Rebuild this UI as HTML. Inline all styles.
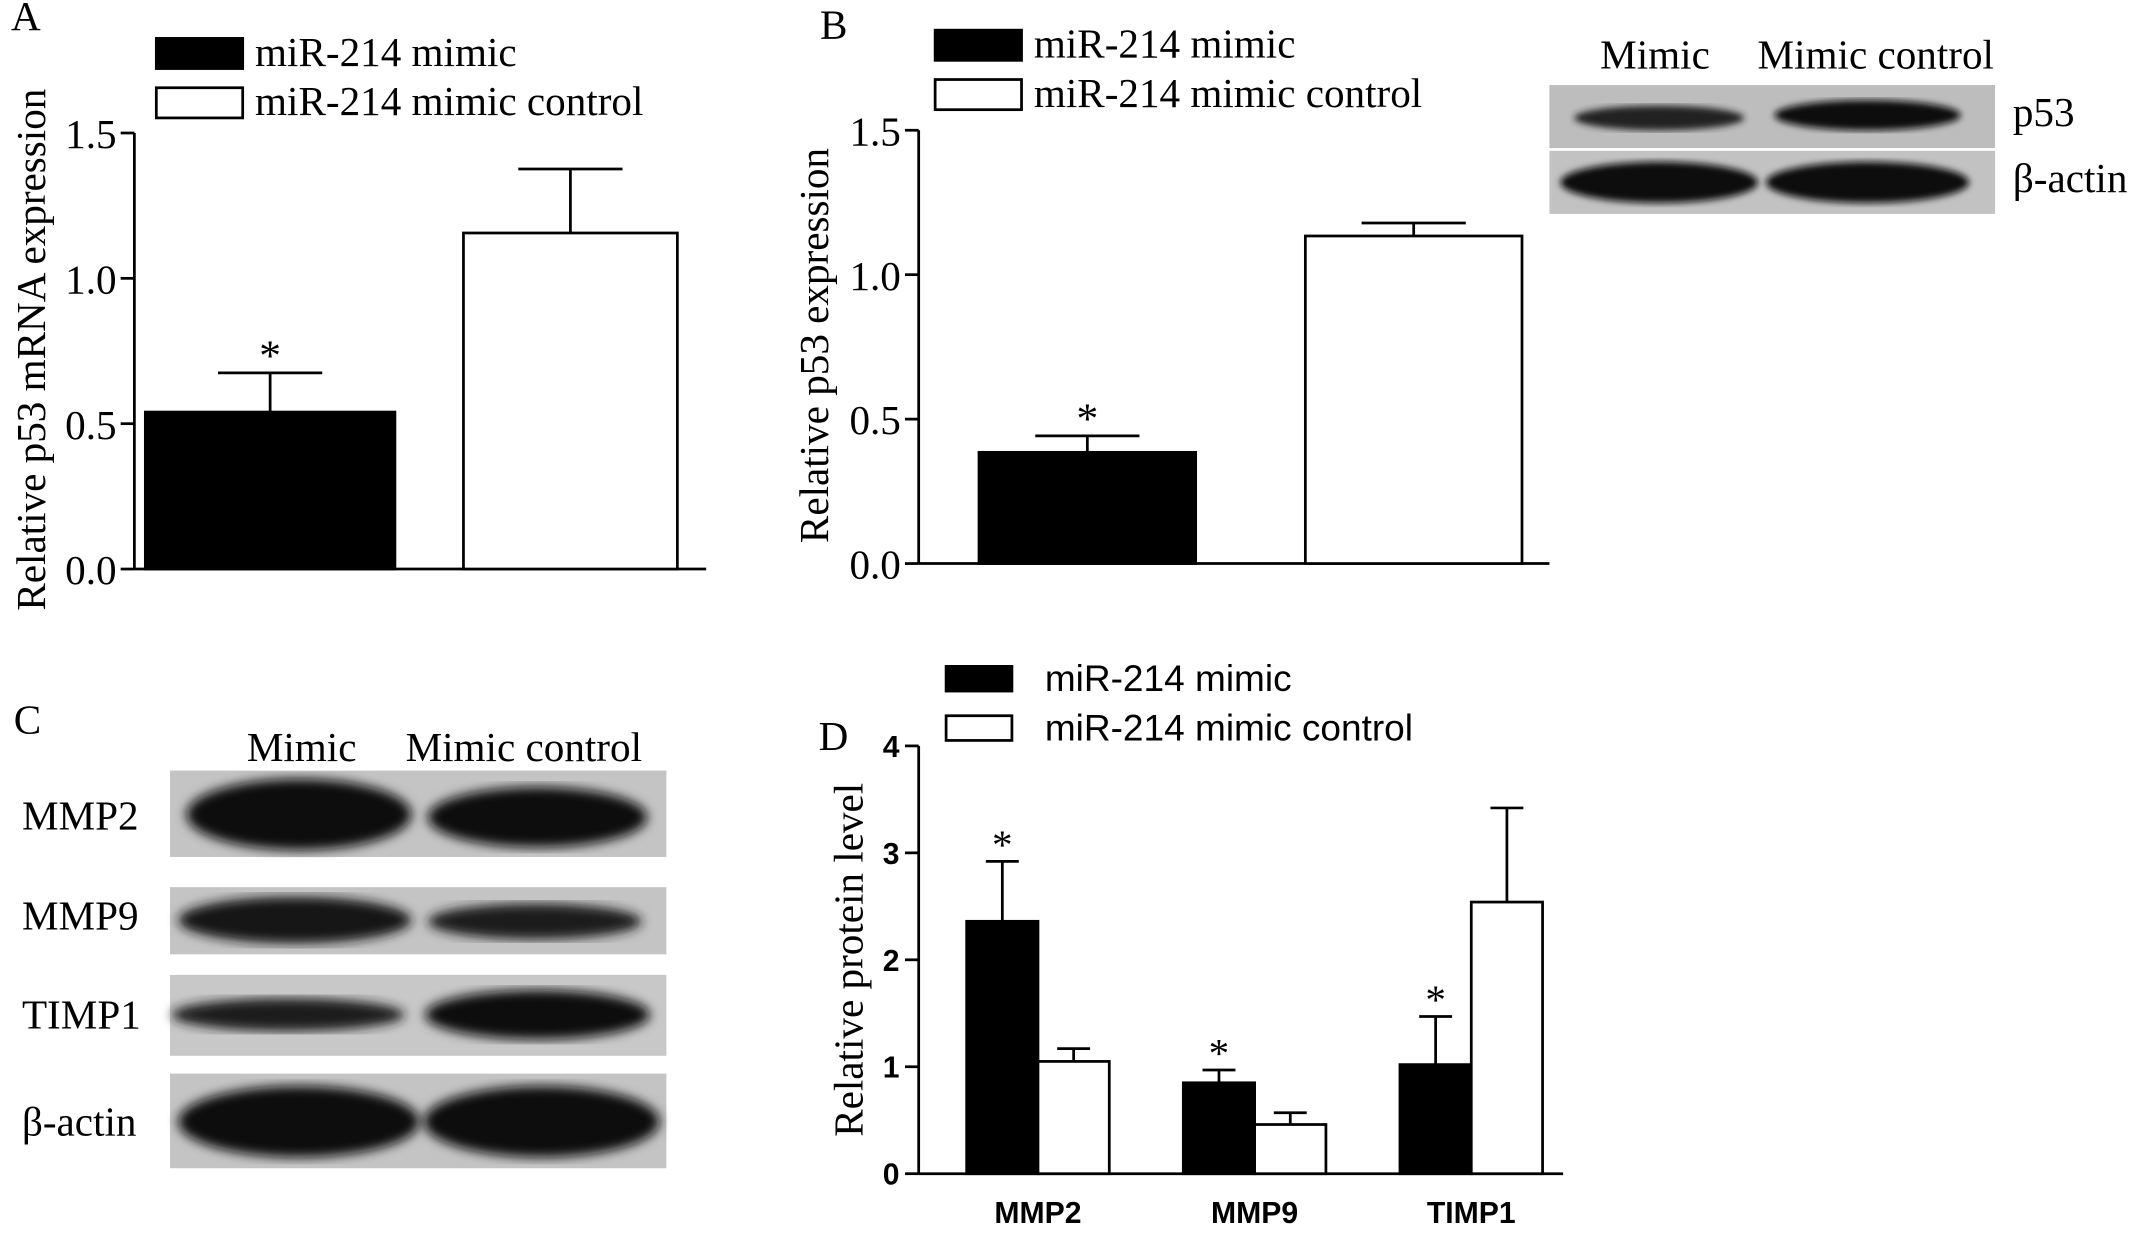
<!DOCTYPE html>
<html><head><meta charset="utf-8"><style>
html,body{margin:0;padding:0;background:#fff;}
svg{display:block;}
.serif{font-family:"Liberation Serif",serif;}
.sans{font-family:"Liberation Sans",sans-serif;}
</style></head><body>
<svg id="fig" width="2150" height="1235" viewBox="0 0 1568 900.7" preserveAspectRatio="none" xmlns="http://www.w3.org/2000/svg">
<defs>
<filter id="blur3"><feGaussianBlur stdDeviation="4"/></filter>
<filter id="blur2"><feGaussianBlur stdDeviation="2.5"/></filter>
</defs>
<g id="gA"></g>
<g id="gB"></g>
<g id="blotB">
  <rect x="1130" y="62" width="325" height="46" fill="#bdbdbd"/>
  <rect x="1130" y="110" width="325" height="46" fill="#c2c2c2"/>
  <ellipse cx="1210" cy="86" rx="62" ry="9" fill="#222" filter="url(#blur2)"/>
  <ellipse cx="1362" cy="84" rx="68" ry="11" fill="#111" filter="url(#blur2)"/>
  <ellipse cx="1210" cy="133" rx="72" ry="15" fill="#111" filter="url(#blur2)"/>
  <ellipse cx="1362" cy="133" rx="74" ry="15" fill="#111" filter="url(#blur2)"/>
  <text class="serif" x="1207" y="50" font-size="30" text-anchor="middle">Mimic</text>
  <text class="serif" x="1368" y="50" font-size="30" text-anchor="middle">Mimic control</text>
  <text class="serif" x="1468" y="92" font-size="30">p53</text>
  <text class="serif" x="1468" y="140" font-size="30">β-actin</text>
</g>
<g id="blotC">
  <text class="serif" x="10" y="535" font-size="30">C</text>
  <text class="serif" x="220" y="555" font-size="30" text-anchor="middle">Mimic</text>
  <text class="serif" x="382" y="555" font-size="30" text-anchor="middle">Mimic control</text>
  <rect x="124" y="562" width="362" height="63" fill="#c4c4c4"/>
  <rect x="124" y="647" width="362" height="49" fill="#c4c4c4"/>
  <rect x="124" y="711" width="362" height="59" fill="#c8c8c8"/>
  <rect x="124" y="783" width="362" height="69" fill="#c4c4c4"/>
  <ellipse cx="218" cy="594" rx="82" ry="26" fill="#111" filter="url(#blur3)"/>
  <ellipse cx="392" cy="596" rx="80" ry="22" fill="#111" filter="url(#blur3)"/>
  <ellipse cx="215" cy="671" rx="85" ry="17" fill="#151515" filter="url(#blur3)"/>
  <ellipse cx="390" cy="672" rx="78" ry="13" fill="#1a1a1a" filter="url(#blur3)"/>
  <ellipse cx="210" cy="740" rx="85" ry="12" fill="#1a1a1a" filter="url(#blur3)"/>
  <ellipse cx="392" cy="740" rx="82" ry="18" fill="#111" filter="url(#blur3)"/>
  <ellipse cx="218" cy="818" rx="88" ry="26" fill="#111" filter="url(#blur3)"/>
  <ellipse cx="395" cy="818" rx="86" ry="26" fill="#111" filter="url(#blur3)"/>
  <text class="serif" x="16" y="605" font-size="30">MMP2</text>
  <text class="serif" x="16" y="678" font-size="30">MMP9</text>
  <text class="serif" x="16" y="750" font-size="30">TIMP1</text>
  <text class="serif" x="16" y="828" font-size="30">β-actin</text>
</g>
<g id="gD"></g>
</svg>
<script>
// Panel A data
const aCategories = ["miR-214 mimic", "miR-214 mimic control"];
const aValues = [0.54, 1.156];
const aErrors = [0.135, 0.22];
const aTicks = ["0.0", "0.5", "1.0", "1.5"];
// Panel B data
const bCategories = ["miR-214 mimic", "miR-214 mimic control"];
const bValues = [0.385, 1.134];
const bErrors = [0.057, 0.045];
const bTicks = ["0.0", "0.5", "1.0", "1.5"];
// Panel D data
const dCategories = ["MMP2", "MMP9", "TIMP1"];
const dMimic = [2.36, 0.85, 1.02];
const dMimicErr = [0.56, 0.12, 0.45];
const dControl = [1.05, 0.46, 2.54];
const dControlErr = [0.12, 0.11, 0.88];
const dTicks = ["0", "1", "2", "3", "4"];
const dStars = [true, true, true];

const NS = "http://www.w3.org/2000/svg";
function mk(parent, tag, attrs, text) {
  const e = document.createElementNS(NS, tag);
  for (const k in attrs) e.setAttribute(k, attrs[k]);
  if (text !== undefined) e.textContent = text;
  parent.appendChild(e);
  return e;
}
function errBar(g, cx, yTop, yVal, half) {
  const l = mk(g, "line", {x1: cx, x2: cx, y1: yTop, y2: yVal, stroke: "#000", "stroke-width": 2});
  
  
  const c = mk(g, "line", {x1: cx - half, x2: cx + half, y1: yTop, y2: yTop, stroke: "#000", "stroke-width": 2});
  
  
}
function star(g, x, y, size, font) {
  const s = mk(g, "text", {x: x, y: y, "font-size": size, "text-anchor": "middle", "font-family": font}, "*");
  
  
}

function twoBarPanel(g, o) {
  const y = v => o.y0 - v / o.max * (o.y0 - o.yTop);
  const axY = mk(g, "line", {x1: o.ax, x2: o.ax, y1: y(o.max), y2: o.y0, stroke: "#000", "stroke-width": 2});
  
  
  const axX = mk(g, "line", {x1: o.ax, x2: o.axEnd, y1: o.y0, y2: o.y0, stroke: "#000", "stroke-width": 2});
  
  
  o.ticks.forEach(t => {
    const v = parseFloat(t);
    const tk = mk(g, "line", {x1: o.ax - 10, x2: o.ax, y1: y(v), y2: y(v), stroke: "#000", "stroke-width": 2});
    
    
    const tl = mk(g, "text", {x: o.ax - 13, y: y(v) + 11, "font-size": 30, "text-anchor": "end", "font-family": "Liberation Serif, serif"}, t);
    
    
  });
  o.values.forEach((v, i) => {
    const x0 = o.barX[i], w = o.barW[i];
    const r = mk(g, "rect", {x: x0, y: y(v), width: w, height: o.y0 - y(v), fill: i === 0 ? "#000" : "#fff", stroke: "#000", "stroke-width": 2});
    
    
    errBar(g, x0 + w / 2, y(v + o.errors[i]), y(v), 38);
    if (i === 0) star(g, x0 + w / 2, y(v + o.errors[i]) - 2, 32, "Liberation Serif, serif");
  });
  o.cats.forEach((c, i) => {
    const ly = o.legY + i * 36;
    const lr = mk(g, "rect", {x: o.legX, y: ly, width: 63, height: 22, fill: i === 0 ? "#000" : "#fff", stroke: "#000", "stroke-width": 2});
    
    
    const lt = mk(g, "text", {x: o.legX + 72, y: ly + 20, "font-size": 30, "font-family": "Liberation Serif, serif"}, c);
    
    
  });
  const t = mk(g, "text", {x: 0, y: 0, "font-size": 30, "text-anchor": "middle", "font-family": "Liberation Serif, serif", transform: `translate(${o.titleX},${o.titleY}) rotate(-90)`}, o.title);
  
  
  const p = mk(g, "text", {x: o.labX, y: o.labY, "font-size": 30, "font-family": "Liberation Serif, serif"}, o.label);
  
  
}

twoBarPanel(document.getElementById("gA"), {
  ax: 98, axEnd: 515, y0: 415, yTop: 97, max: 1.5, ticks: aTicks, values: aValues, errors: aErrors,
  barX: [106, 338], barW: [182, 156], cats: aCategories, legX: 114, legY: 28,
  title: "Relative p53 mRNA expression", titleX: 33, titleY: 255, label: "A", labX: 8, labY: 22
});
twoBarPanel(document.getElementById("gB"), {
  ax: 670, axEnd: 1130, y0: 411, yTop: 95, max: 1.5, ticks: bTicks, values: bValues, errors: bErrors,
  barX: [714, 952], barW: [158, 158], cats: bCategories, legX: 682, legY: 22,
  title: "Relative p53 expression", titleX: 604, titleY: 252, label: "B", labX: 598, labY: 28
});

// Panel D
(function () {
  const g = document.getElementById("gD");
  const x0 = 670, y0 = 856, yTop = 544, max = 4;
  const y = v => y0 - v / max * (y0 - yTop);
  const groupC = i => 757 + i * 158;
  const bw = 52;
  const axY = mk(g, "line", {x1: x0, x2: x0, y1: yTop, y2: y0, stroke: "#000", "stroke-width": 2});
  
  
  const axX = mk(g, "line", {x1: x0, x2: 1140, y1: y0, y2: y0, stroke: "#000", "stroke-width": 2});
  
  
  dTicks.forEach(t => {
    const v = parseFloat(t);
    const tk = mk(g, "line", {x1: x0 - 10, x2: x0, y1: y(v), y2: y(v), stroke: "#000", "stroke-width": 2});
    
    
    const tl = mk(g, "text", {x: x0 - 14, y: y(v) + 8, "font-size": 22, "font-weight": "bold", "text-anchor": "end", "font-family": "Liberation Sans, sans-serif"}, t);
    
    
  });
  dCategories.forEach((c, i) => {
    const cx = groupC(i);
    const b1 = mk(g, "rect", {x: cx - bw, y: y(dMimic[i]), width: bw, height: y0 - y(dMimic[i]), fill: "#000", stroke: "#000", "stroke-width": 2});
    
    
    errBar(g, cx - bw / 2, y(dMimic[i] + dMimicErr[i]), y(dMimic[i]), 12);
    if (dStars[i]) star(g, cx - bw / 2, y(dMimic[i] + dMimicErr[i]) - 2, 30, "Liberation Serif, serif");
    const b2 = mk(g, "rect", {x: cx, y: y(dControl[i]), width: bw, height: y0 - y(dControl[i]), fill: "#fff", stroke: "#000", "stroke-width": 2});
    
    
    errBar(g, cx + bw / 2, y(dControl[i] + dControlErr[i]), y(dControl[i]), 12);
    const xl = mk(g, "text", {x: cx, y: 892, "font-size": 22, "font-weight": "bold", "text-anchor": "middle", "font-family": "Liberation Sans, sans-serif"}, c);
    
    
  });
  ["miR-214 mimic", "miR-214 mimic control"].forEach((c, i) => {
    const ly = 486 + i * 36;
    const lr = mk(g, "rect", {x: 690, y: ly, width: 48, height: 18, fill: i === 0 ? "#000" : "#fff", stroke: "#000", "stroke-width": 2});
    
    
    const lt = mk(g, "text", {x: 762, y: ly + 18, "font-size": 27, "font-family": "Liberation Sans, sans-serif"}, c);
    
    
  });
  const t = mk(g, "text", {x: 0, y: 0, "font-size": 30, "text-anchor": "middle", "font-family": "Liberation Serif, serif", transform: "translate(629,700) rotate(-90)"}, "Relative protein level");
  
  
  const p = mk(g, "text", {x: 597, y: 547, "font-size": 30, "font-family": "Liberation Serif, serif"}, "D");
  
  
})();
</script>
</body></html>
